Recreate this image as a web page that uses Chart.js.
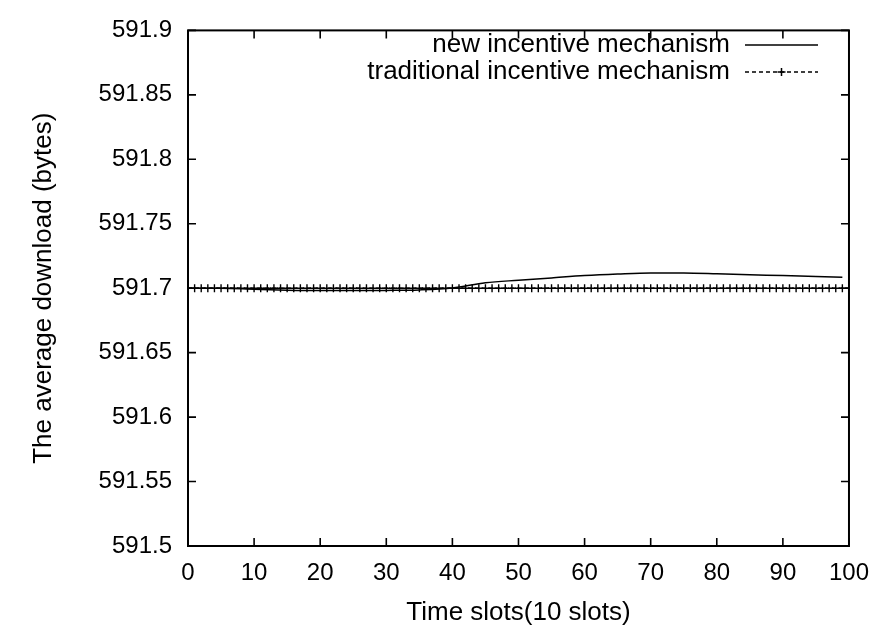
<!DOCTYPE html>
<html lang="en">
<head>
    <meta charset="UTF-8">
    <title>Average download</title>
    <script src="https://cdn.jsdelivr.net/npm/chart.js"></script>
    <style>
        html, body {
            margin: 0;
            padding: 0;
            background: #fff;
        }

        #wrap {
            width: 882px;
            height: 628px;
        }
    </style>
</head>
<body>

    <div id="wrap">
        <canvas id="myChart" width="882" height="628"></canvas>
    </div>

    <script>
        // tick labels
        var xTicks = [0, 10, 20, 30, 40, 50, 60, 70, 80, 90, 100];
        var yTicks = [591.5, 591.55, 591.6, 591.65, 591.7, 591.75, 591.8, 591.85, 591.9];

        // new incentive mechanism (smooth curve)
        var newX = [0, 5, 10, 15, 20, 25, 30, 35, 40, 45, 50, 55, 60, 65, 70, 75, 80, 85, 90, 95, 99];
        var newY = [591.7000, 591.7000, 591.6992, 591.6985, 591.6982, 591.6982, 591.6983, 591.6987, 591.7002, 591.7042,
                    591.7062, 591.7080, 591.7098, 591.7110, 591.7118, 591.7118, 591.7112, 591.7104, 591.7098, 591.7090, 591.7085];

        // traditional incentive mechanism, one point per slot
        var tradX = [0, 1, 2, 3, 4, 5, 6, 7, 8, 9, 10, 11, 12, 13, 14, 15, 16, 17, 18, 19, 20,
                     21, 22, 23, 24, 25, 26, 27, 28, 29, 30, 31, 32, 33, 34, 35, 36, 37, 38, 39, 40,
                     41, 42, 43, 44, 45, 46, 47, 48, 49, 50, 51, 52, 53, 54, 55, 56, 57, 58, 59, 60,
                     61, 62, 63, 64, 65, 66, 67, 68, 69, 70, 71, 72, 73, 74, 75, 76, 77, 78, 79, 80,
                     81, 82, 83, 84, 85, 86, 87, 88, 89, 90, 91, 92, 93, 94, 95, 96, 97, 98, 99, 100];
        var tradY = [591.7, 591.7, 591.7, 591.7, 591.7, 591.7, 591.7, 591.7, 591.7, 591.7, 591.7,
                     591.7, 591.7, 591.7, 591.7, 591.7, 591.7, 591.7, 591.7, 591.7, 591.7,
                     591.7, 591.7, 591.7, 591.7, 591.7, 591.7, 591.7, 591.7, 591.7, 591.7,
                     591.7, 591.7, 591.7, 591.7, 591.7, 591.7, 591.7, 591.7, 591.7, 591.7,
                     591.7, 591.7, 591.7, 591.7, 591.7, 591.7, 591.7, 591.7, 591.7, 591.7,
                     591.7, 591.7, 591.7, 591.7, 591.7, 591.7, 591.7, 591.7, 591.7, 591.7,
                     591.7, 591.7, 591.7, 591.7, 591.7, 591.7, 591.7, 591.7, 591.7, 591.7,
                     591.7, 591.7, 591.7, 591.7, 591.7, 591.7, 591.7, 591.7, 591.7, 591.7,
                     591.7, 591.7, 591.7, 591.7, 591.7, 591.7, 591.7, 591.7, 591.7, 591.7,
                     591.7, 591.7, 591.7, 591.7, 591.7, 591.7, 591.7, 591.7, 591.7, 591.7];

        var seriesNames = ['new incentive mechanism', 'traditional incentive mechanism'];

        var FONT = '"Liberation Sans", Arial, sans-serif';

        function toPoints(xs, ys) {
            return xs.map(function (x, i) { return { x: x, y: ys[i] }; });
        }

        // frame with inward ticks on all four sides + key in the top right corner
        var framePlugin = {
            id: 'frame',
            afterDatasetsDraw: function (chart) {
                var ctx = chart.ctx;
                var a = chart.chartArea;
                var xs = chart.scales.x;
                var ys = chart.scales.y;
                var len = 8;

                ctx.save();
                ctx.strokeStyle = '#000';
                ctx.lineWidth = 2;
                ctx.strokeRect(a.left, a.top, a.right - a.left, a.bottom - a.top);

                ctx.lineWidth = 1.6;
                ctx.beginPath();
                xTicks.forEach(function (v) {
                    var px = xs.getPixelForValue(v);
                    ctx.moveTo(px, a.bottom);
                    ctx.lineTo(px, a.bottom - len);
                    ctx.moveTo(px, a.top);
                    ctx.lineTo(px, a.top + len);
                });
                yTicks.forEach(function (v) {
                    var py = ys.getPixelForValue(v);
                    ctx.moveTo(a.left, py);
                    ctx.lineTo(a.left + len, py);
                    ctx.moveTo(a.right, py);
                    ctx.lineTo(a.right - len, py);
                });
                ctx.stroke();

                // key
                ctx.font = '26px ' + FONT;
                ctx.fillStyle = '#000';
                ctx.textAlign = 'right';
                ctx.textBaseline = 'middle';
                var textRight = 730;
                var sx0 = 745, sx1 = 818;
                var rows = [45, 72];

                chart.data.datasets.forEach(function (ds, i) {
                    var y = rows[i];
                    ctx.fillText(ds.label, textRight, y);
                    ctx.lineWidth = 1.5;
                    ctx.setLineDash(ds.borderDash || []);
                    ctx.beginPath();
                    ctx.moveTo(sx0, y);
                    ctx.lineTo(sx1, y);
                    ctx.stroke();
                    ctx.setLineDash([]);
                    if (ds.pointRadius > 0) {
                        var cx = (sx0 + sx1) / 2;
                        ctx.beginPath();
                        ctx.moveTo(cx - 4, y);
                        ctx.lineTo(cx + 4, y);
                        ctx.moveTo(cx, y - 4);
                        ctx.lineTo(cx, y + 4);
                        ctx.stroke();
                    }
                });
                ctx.restore();
            }
        };

        var ctx = document.getElementById('myChart').getContext('2d');
        var myChart = new Chart(ctx, {
            type: 'line',
            data: {
                datasets: [{
                    label: seriesNames[0],
                    data: toPoints(newX, newY),
                    borderColor: '#000',
                    borderWidth: 1.5,
                    pointRadius: 0,
                    cubicInterpolationMode: 'monotone',
                    fill: false
                }, {
                    label: seriesNames[1],
                    data: toPoints(tradX, tradY),
                    borderColor: '#000',
                    borderWidth: 1.3,
                    borderDash: [4, 3],
                    pointStyle: 'cross',
                    pointRadius: 4,
                    pointBorderWidth: 1.4,
                    pointBorderColor: '#000',
                    fill: false
                }]
            },
            options: {
                responsive: false,
                animation: false,
                layout: {
                    padding: { left: 0, right: 30, top: 23, bottom: 0 }
                },
                plugins: {
                    legend: { display: false },
                    tooltip: { enabled: false }
                },
                scales: {
                    x: {
                        type: 'linear',
                        min: 0,
                        max: 100,
                        afterBuildTicks: function (scale) {
                            scale.ticks = xTicks.map(function (v) { return { value: v }; });
                        },
                        afterFit: function (scale) {
                            scale.height = 82;
                        },
                        grid: { display: false, drawTicks: false },
                        border: { display: false },
                        ticks: {
                            color: '#000',
                            padding: 13,
                            font: { family: FONT, size: 24 },
                            maxRotation: 0
                        },
                        title: {
                            display: true,
                            text: 'Time slots(10 slots)',
                            color: '#000',
                            font: { family: FONT, size: 26 },
                            padding: { top: 0, bottom: 0 }
                        }
                    },
                    y: {
                        type: 'linear',
                        min: 591.5,
                        max: 591.9,
                        afterBuildTicks: function (scale) {
                            scale.ticks = yTicks.map(function (v) { return { value: v }; });
                        },
                        afterFit: function (scale) {
                            scale.width = 188;
                        },
                        grid: { display: false, drawTicks: false },
                        border: { display: false },
                        ticks: {
                            color: '#000',
                            padding: 16,
                            font: { family: FONT, size: 24 },
                            callback: function (v) { return String(parseFloat(v.toFixed(2))); }
                        },
                        title: {
                            display: true,
                            text: 'The average download (bytes)',
                            color: '#000',
                            font: { family: FONT, size: 26 },
                            padding: { top: 28, bottom: 0 }
                        }
                    }
                }
            },
            plugins: [framePlugin]
        });
    </script>

</body>
</html>
